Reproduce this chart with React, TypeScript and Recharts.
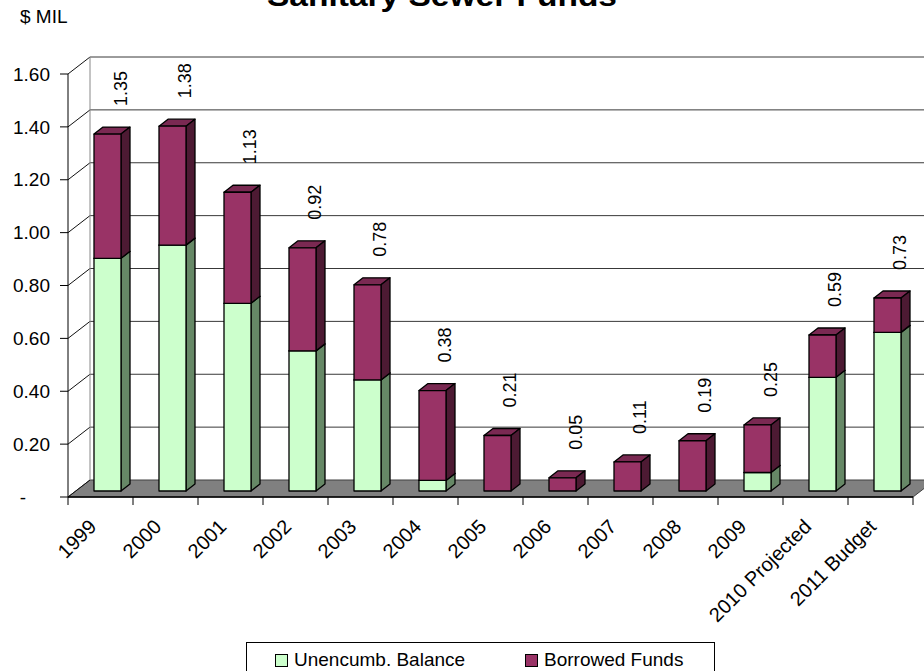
import React from 'react'
import { BarChart, Bar, XAxis, YAxis, CartesianGrid, LabelList } from 'recharts'

// values in $ millions
const categories = [
  '1999', '2000', '2001', '2002', '2003', '2004', '2005', '2006', '2007', '2008', '2009',
  '2010 Projected', '2011 Budget',
]
const unencumbered = [0.88, 0.93, 0.71, 0.53, 0.42, 0.04, 0, 0, 0, 0, 0.07, 0.43, 0.6]
const borrowed = [0.47, 0.45, 0.42, 0.39, 0.36, 0.34, 0.21, 0.05, 0.11, 0.19, 0.18, 0.16, 0.13]
const yTicks = [0, 0.2, 0.4, 0.6, 0.8, 1.0, 1.2, 1.4, 1.6]
const seriesNames = ['Unencumb. Balance', 'Borrowed Funds']

const FONT = '"Liberation Sans", Arial, sans-serif'
const CHART_W = 924
const CHART_H = 671
const MARGIN = { top: 74, right: 11, bottom: 74, left: 0 }
const X_AXIS_H = 100
const Y_AXIS_W = 68
const PLOT_LEFT = MARGIN.left + Y_AXIS_W
const PLOT_BOTTOM = CHART_H - MARGIN.bottom - X_AXIS_H

// 3d look: wall depth, bar placement inside depth, bar thickness
const WALL_DX = 22
const WALL_DY = -17
const BAR_DX = 7
const BAR_DY = -6
const BOX_DX = 9
const BOX_DY = -7

const GREEN = { front: '#CCFFCC', side: '#668866', top: '#A3CCA3' }
const MAROON = { front: '#993366', side: '#4D1A33', top: '#7A2952' }

const data = categories.map((name, i) => ({
  name,
  unencumbered: unencumbered[i],
  borrowed: borrowed[i],
  total: Math.round((unencumbered[i] + borrowed[i]) * 100) / 100,
}))

function Box3D(props: any) {
  const { x, y, width, height, colors } = props
  if (!height || height < 0.5) return <g />
  const fx = x + BAR_DX
  const fy = y + BAR_DY
  const rx = fx + width
  const side = `${rx},${fy} ${rx + BOX_DX},${fy + BOX_DY} ${rx + BOX_DX},${fy + height + BOX_DY} ${rx},${fy + height}`
  const top = `${fx},${fy} ${fx + BOX_DX},${fy + BOX_DY} ${rx + BOX_DX},${fy + BOX_DY} ${rx},${fy}`
  return (
    <g stroke="#000" strokeWidth={1.3} strokeLinejoin="round">
      <polygon points={top} fill={colors.top} />
      <polygon points={side} fill={colors.side} />
      <rect x={fx} y={fy} width={width} height={height} fill={colors.front} />
    </g>
  )
}

function TotalLabel(props: any) {
  const { x, y, width, value } = props
  const px = x + width / 2 + 26
  const py = y + BAR_DY - 28
  return (
    <text
      x={px}
      y={py}
      transform={`rotate(-90 ${px} ${py})`}
      textAnchor="start"
      fontSize={18}
      fontFamily={FONT}
      fill="#000"
    >
      {Number(value).toFixed(2)}
    </text>
  )
}

function ValueTick(props: any) {
  const { x, y, payload } = props
  const v = payload.value
  return (
    <text
      x={v === 0 ? x - 24 : x}
      y={y}
      dy="0.35em"
      textAnchor="end"
      fontSize={19}
      fontFamily={FONT}
      fill="#000"
    >
      {v === 0 ? '-' : v.toFixed(2)}
    </text>
  )
}

function CategoryTick(props: any) {
  const { x, y, payload } = props
  const tx = x - 3
  const ty = y + 31
  return (
    <text
      x={tx}
      y={ty}
      transform={`rotate(-45 ${tx} ${ty})`}
      textAnchor="end"
      fontSize={20}
      fontFamily={FONT}
      fill="#000"
    >
      {payload.value}
    </text>
  )
}

// horizontal gridlines: side-wall diagonal + back-wall line, floor at zero
function WallLine(p: any) {
  const { x1, y1, x2 } = p
  const bx1 = x1 + WALL_DX
  const bx2 = x2 + WALL_DX
  const by = y1 + WALL_DY
  const isFloor = Math.abs(y1 - PLOT_BOTTOM) < 1
  return (
    <g key={p.key ?? `h-${y1}`}>
      {isFloor && (
        <polygon
          points={`${x1},${y1} ${x2},${y1} ${bx2},${by} ${bx1},${by}`}
          fill="#808080"
          stroke="#404040"
        />
      )}
      <line x1={x1} y1={y1} x2={bx1} y2={by} stroke="#111" />
      {!isFloor && <line x1={bx1} y1={by} x2={bx2} y2={by} stroke="#383838" />}
    </g>
  )
}

// category boundary ticks under the axis, plus back wall left edge
function BoundaryLine(p: any) {
  const { x1, y1, y2 } = p
  const first = Math.abs(x1 - PLOT_LEFT) < 1
  return (
    <g key={p.key ?? `v-${x1}`}>
      <line x1={x1} y1={y2} x2={x1} y2={y2 + 8} stroke="#000" />
      {first && (
        <line x1={x1 + WALL_DX} y1={y1 + WALL_DY} x2={x1 + WALL_DX} y2={y2 + WALL_DY} stroke="#888" />
      )}
    </g>
  )
}

const boundaries = (args: any) => {
  const off = args?.offset ?? {
    left: PLOT_LEFT,
    width: CHART_W - PLOT_LEFT - MARGIN.right,
  }
  const n = categories.length
  return Array.from({ length: n + 1 }, (_, i) => off.left + (i * off.width) / n)
}

function ChartLegend() {
  const swatches = [GREEN.front, MAROON.front]
  const lefts = [28, 278]
  return (
    <div
      style={{
        position: 'absolute',
        left: 246,
        top: 642,
        width: 469,
        height: 40,
        border: '1px solid #000',
        background: '#fff',
        fontFamily: FONT,
        fontSize: 19,
        boxSizing: 'border-box',
      }}
    >
      {seriesNames.map((name, i) => (
        <div
          key={name}
          style={{ position: 'absolute', left: lefts[i], top: 6, display: 'flex', alignItems: 'center', whiteSpace: 'nowrap' }}
        >
          <span
            style={{
              display: 'inline-block',
              width: 11,
              height: 11,
              border: '1px solid #000',
              background: swatches[i],
              marginRight: 6,
            }}
          />
          <span>{name}</span>
        </div>
      ))}
    </div>
  )
}

export default function App() {
  return (
    <div style={{ position: 'absolute', left: 0, top: 0, width: CHART_W, height: CHART_H, overflow: 'hidden', background: '#fff' }}>
      <BarChart width={CHART_W} height={CHART_H} data={data} margin={MARGIN} barSize={27}>
        <CartesianGrid
          horizontal={WallLine}
          vertical={BoundaryLine}
          verticalCoordinatesGenerator={boundaries}
        />
        <XAxis
          dataKey="name"
          interval={0}
          height={X_AXIS_H}
          tickSize={0}
          tickMargin={0}
          tickLine={false}
          axisLine={{ stroke: '#000', strokeWidth: 1.3 }}
          tick={(p: any) => <CategoryTick {...p} />}
        />
        <YAxis
          type="number"
          domain={[0, 1.6]}
          ticks={yTicks}
          interval={0}
          width={Y_AXIS_W}
          tickSize={8}
          tickMargin={10}
          axisLine={{ stroke: '#000' }}
          tickLine={{ stroke: '#000' }}
          tick={(p: any) => <ValueTick {...p} />}
        />
        <Bar
          dataKey="unencumbered"
          stackId="funds"
          name={seriesNames[0]}
          isAnimationActive={false}
          shape={(p: any) => <Box3D {...p} colors={GREEN} />}
        />
        <Bar
          dataKey="borrowed"
          stackId="funds"
          name={seriesNames[1]}
          isAnimationActive={false}
          shape={(p: any) => <Box3D {...p} colors={MAROON} />}
        >
          <LabelList dataKey="total" content={(p: any) => <TotalLabel {...p} />} />
        </Bar>
      </BarChart>
      <svg
        width={CHART_W}
        height={40}
        style={{ position: 'absolute', left: 0, top: 0, pointerEvents: 'none' }}
      >
        <text x={20} y={23} fontSize={19} fontFamily={FONT} fill="#000">
          $ MIL
        </text>
        <text
          x={442}
          y={5.5}
          textAnchor="middle"
          fontSize={29}
          fontWeight="bold"
          fontFamily={FONT}
          fill="#000"
          textLength={350}
          lengthAdjust="spacingAndGlyphs"
        >
          Sanitary Sewer Funds
        </text>
      </svg>
      <ChartLegend />
    </div>
  )
}
